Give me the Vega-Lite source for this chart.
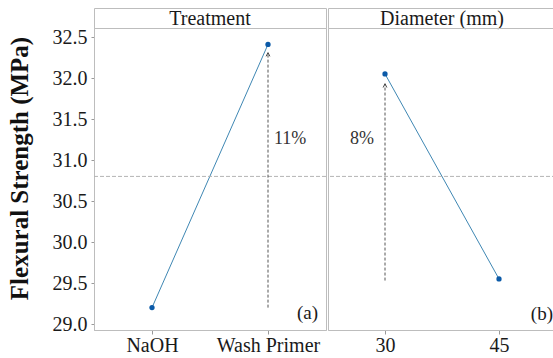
{
  "$schema": "https://vega.github.io/schema/vega-lite/v6.json",
  "padding": {"left": 6, "top": 7, "right": 0, "bottom": 0},
  "background": "white",
  "spacing": 0,
  "config": {
    "font": "Liberation Serif",
    "view": {"stroke": "#bdbdbd", "strokeWidth": 1},
    "axis": {
      "labelFont": "Liberation Serif",
      "labelFontSize": 20,
      "labelColor": "#1a1a1a",
      "domainColor": "#bdbdbd",
      "tickColor": "#9a9a9a",
      "grid": false
    }
  },
  "datasets": {
    "means": [
      {"factor": "Treatment", "level": "NaOH", "strength": 29.2},
      {"factor": "Treatment", "level": "Wash Primer", "strength": 32.41},
      {"factor": "Diameter (mm)", "level": "30", "strength": 32.05},
      {"factor": "Diameter (mm)", "level": "45", "strength": 29.55}
    ],
    "arrows": [
      {"factor": "Treatment", "level": "Wash Primer", "from": 29.2, "to": 32.31, "label": "11%", "panel": "(a)", "grand_mean": 30.8},
      {"factor": "Diameter (mm)", "level": "30", "from": 29.53, "to": 31.93, "label": "8%", "panel": "(b)", "grand_mean": 30.8}
    ]
  },
  "hconcat": [
    {
      "spacing": 0,
      "bounds": "flush",
      "vconcat": [
        {
          "width": 232,
          "height": 20,
          "data": {"name": "arrows"},
          "transform": [{"filter": "datum.factor === 'Treatment'"}],
          "mark": {"type": "text", "fontSize": 20, "color": "#1a1a1a", "align": "center", "baseline": "middle", "dy": 1},
          "encoding": {
            "x": {"field": "factor", "type": "nominal", "scale": {"type": "point", "padding": 0.5}, "axis": null},
            "y": {"field": "factor", "type": "nominal", "scale": {"type": "point", "padding": 0.5}, "axis": null},
            "text": {"field": "factor"}
          }
        },
        {
          "width": 232,
          "height": 302,
          "layer": [
            {
              "data": {"name": "means"},
              "transform": [{"filter": "datum.factor === 'Treatment'"}],
              "mark": {"type": "line", "color": "#3f87b3", "strokeWidth": 1},
              "encoding": {
                "x": {"field": "level", "type": "nominal", "sort": null, "scale": {"type": "point", "padding": 0.5},
                      "axis": {"title": null, "labelAngle": 0, "tickSize": 4, "labelPadding": 1}},
                "y": {"field": "strength", "type": "quantitative",
                      "scale": {"domain": [28.927, 32.61], "nice": false, "zero": false},
                      "axis": {"values": [29, 29.5, 30, 30.5, 31, 31.5, 32, 32.5], "format": ".1f", "tickSize": 3, "labelPadding": 4,
                               "title": "Flexural Strength (MPa)", "titleFont": "Liberation Serif", "titleFontSize": 25,
                               "titleFontWeight": "bold", "titleColor": "#111", "titlePadding": 20, "titleY": 140}}
              }
            },
            {
              "data": {"name": "arrows"},
              "transform": [{"filter": "datum.factor === 'Treatment'"}],
              "mark": {"type": "rule", "color": "#b5b5b5", "strokeDash": [4, 2], "strokeWidth": 1},
              "encoding": {"y": {"field": "grand_mean", "type": "quantitative"}}
            },
            {
              "data": {"name": "means"},
              "transform": [{"filter": "datum.factor === 'Treatment'"}],
              "mark": {"type": "point", "filled": true, "color": "#0b5aa8", "size": 28, "opacity": 1},
              "encoding": {
                "x": {"field": "level", "type": "nominal", "sort": null},
                "y": {"field": "strength", "type": "quantitative"}
              }
            },
            {
              "data": {"name": "arrows"},
              "transform": [{"filter": "datum.factor === 'Treatment'"}],
              "mark": {"type": "rule", "color": "#555", "strokeDash": [3, 2], "strokeWidth": 1},
              "encoding": {
                "x": {"field": "level", "type": "nominal"},
                "y": {"field": "from", "type": "quantitative"},
                "y2": {"field": "to"}
              }
            },
            {
              "data": {"name": "arrows"},
              "transform": [{"filter": "datum.factor === 'Treatment'"}],
              "mark": {"type": "point", "shape": "M-1,2L0,0L1,2", "filled": false, "color": "#444", "size": 14, "strokeWidth": 1, "opacity": 1},
              "encoding": {
                "x": {"field": "level", "type": "nominal"},
                "y": {"field": "to", "type": "quantitative"}
              }
            },
            {
              "data": {"name": "arrows"},
              "transform": [{"filter": "datum.factor === 'Treatment'"}],
              "mark": {"type": "text", "fontSize": 18, "color": "#333", "align": "left", "baseline": "middle", "dx": 6, "dy": 86},
              "encoding": {
                "x": {"field": "level", "type": "nominal"},
                "y": {"field": "to", "type": "quantitative"},
                "text": {"field": "label"}
              }
            },
            {
              "data": {"name": "arrows"},
              "transform": [{"filter": "datum.factor === 'Treatment'"}],
              "mark": {"type": "text", "fontSize": 19, "color": "#1a1a1a", "align": "right", "baseline": "middle", "dx": 50, "dy": 5},
              "encoding": {
                "x": {"field": "level", "type": "nominal"},
                "y": {"field": "from", "type": "quantitative"},
                "text": {"field": "panel"}
              }
            }
          ]
        }
      ]
    },
    {
      "spacing": 0,
      "bounds": "flush",
      "vconcat": [
        {
          "width": 228,
          "height": 20,
          "data": {"name": "arrows"},
          "transform": [{"filter": "datum.factor === 'Diameter (mm)'"}],
          "mark": {"type": "text", "fontSize": 20, "color": "#1a1a1a", "align": "center", "baseline": "middle", "dy": 1},
          "encoding": {
            "x": {"field": "factor", "type": "nominal", "scale": {"type": "point", "padding": 0.5}, "axis": null},
            "y": {"field": "factor", "type": "nominal", "scale": {"type": "point", "padding": 0.5}, "axis": null},
            "text": {"field": "factor"}
          }
        },
        {
          "width": 228,
          "height": 302,
          "layer": [
            {
              "data": {"name": "means"},
              "transform": [{"filter": "datum.factor === 'Diameter (mm)'"}],
              "mark": {"type": "line", "color": "#3f87b3", "strokeWidth": 1},
              "encoding": {
                "x": {"field": "level", "type": "nominal", "sort": null, "scale": {"type": "point", "padding": 0.5},
                      "axis": {"title": null, "labelAngle": 0, "tickSize": 4, "labelPadding": 1}},
                "y": {"field": "strength", "type": "quantitative",
                      "scale": {"domain": [28.927, 32.61], "nice": false, "zero": false},
                      "axis": null}
              }
            },
            {
              "data": {"name": "arrows"},
              "transform": [{"filter": "datum.factor === 'Diameter (mm)'"}],
              "mark": {"type": "rule", "color": "#b5b5b5", "strokeDash": [4, 2], "strokeWidth": 1},
              "encoding": {"y": {"field": "grand_mean", "type": "quantitative"}}
            },
            {
              "data": {"name": "means"},
              "transform": [{"filter": "datum.factor === 'Diameter (mm)'"}],
              "mark": {"type": "point", "filled": true, "color": "#0b5aa8", "size": 28, "opacity": 1},
              "encoding": {
                "x": {"field": "level", "type": "nominal", "sort": null},
                "y": {"field": "strength", "type": "quantitative"}
              }
            },
            {
              "data": {"name": "arrows"},
              "transform": [{"filter": "datum.factor === 'Diameter (mm)'"}],
              "mark": {"type": "rule", "color": "#555", "strokeDash": [3, 2], "strokeWidth": 1},
              "encoding": {
                "x": {"field": "level", "type": "nominal"},
                "y": {"field": "from", "type": "quantitative"},
                "y2": {"field": "to"}
              }
            },
            {
              "data": {"name": "arrows"},
              "transform": [{"filter": "datum.factor === 'Diameter (mm)'"}],
              "mark": {"type": "point", "shape": "M-1,2L0,0L1,2", "filled": false, "color": "#444", "size": 14, "strokeWidth": 1, "opacity": 1},
              "encoding": {
                "x": {"field": "level", "type": "nominal"},
                "y": {"field": "to", "type": "quantitative"}
              }
            },
            {
              "data": {"name": "arrows"},
              "transform": [{"filter": "datum.factor === 'Diameter (mm)'"}],
              "mark": {"type": "text", "fontSize": 18, "color": "#333", "align": "right", "baseline": "middle", "dx": -11, "dy": 55},
              "encoding": {
                "x": {"field": "level", "type": "nominal"},
                "y": {"field": "to", "type": "quantitative"},
                "text": {"field": "label"}
              }
            },
            {
              "data": {"name": "arrows"},
              "transform": [{"filter": "datum.factor === 'Diameter (mm)'"}],
              "mark": {"type": "text", "fontSize": 19, "color": "#1a1a1a", "align": "right", "baseline": "middle", "dx": 168, "dy": 33},
              "encoding": {
                "x": {"field": "level", "type": "nominal"},
                "y": {"field": "from", "type": "quantitative"},
                "text": {"field": "panel"}
              }
            }
          ]
        }
      ]
    }
  ]
}
